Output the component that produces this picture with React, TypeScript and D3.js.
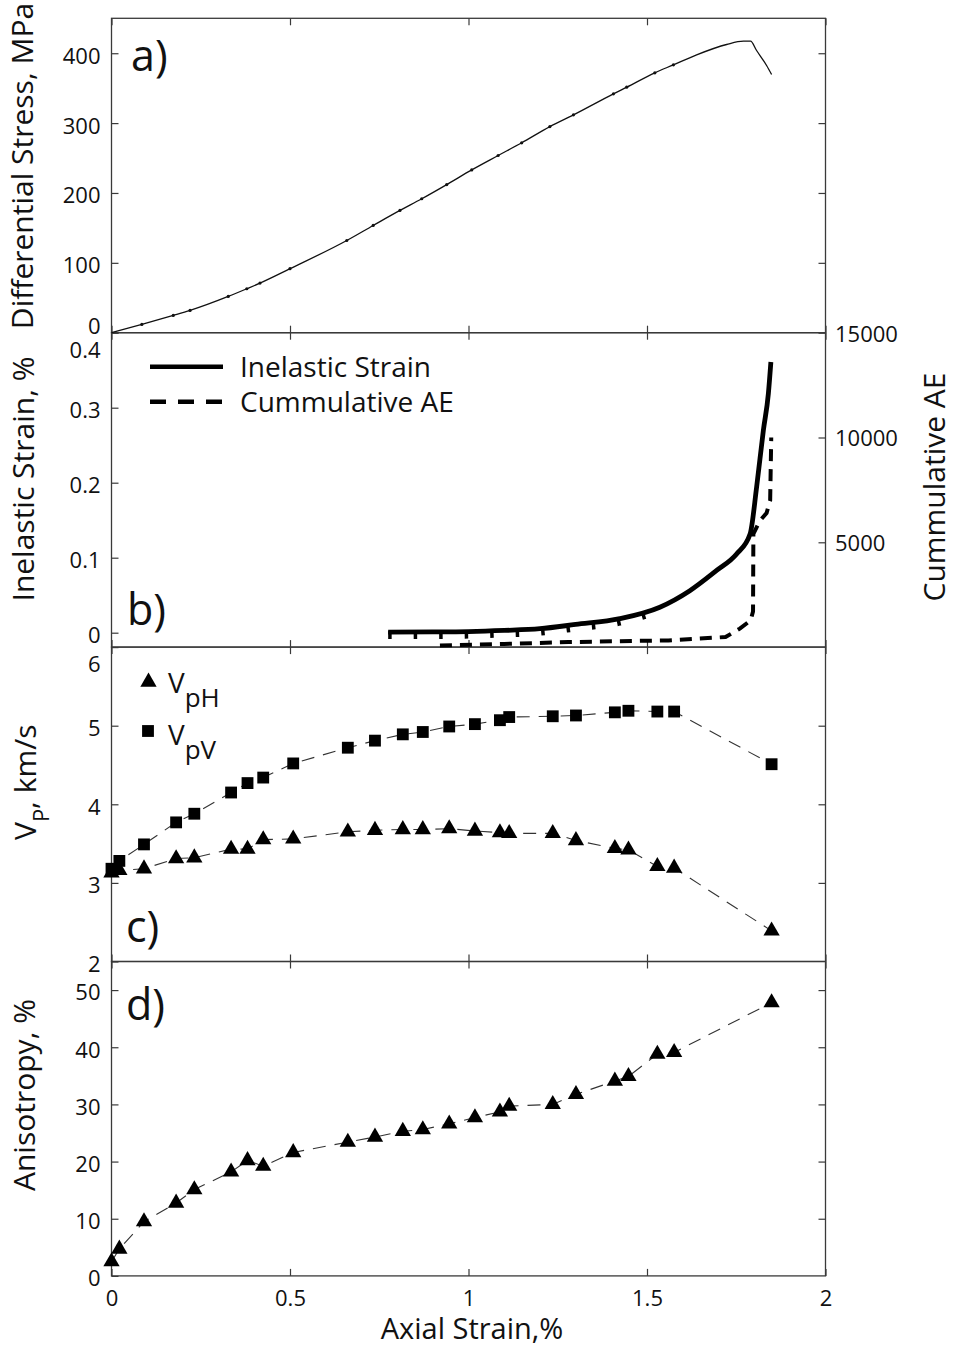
import React, { useEffect, useRef } from 'react'
import * as d3 from 'd3'

// a) stress-strain curve
const stressStrain = [0, 0.085, 0.173, 0.22, 0.327, 0.379, 0.416, 0.5, 0.659, 0.733, 0.808, 0.869, 0.939, 1.009, 1.083, 1.149, 1.228, 1.294, 1.406, 1.443, 1.522, 1.574, 1.639, 1.723, 1.77, 1.79, 1.807, 1.835, 1.849]
const stressMPa = [0, 11.9, 24.7, 31.9, 51.9, 62.9, 71, 91.6, 132, 153.5, 175, 191.7, 212, 233, 253.6, 271.8, 295, 311.8, 341.9, 351.4, 372, 383.4, 397.7, 412.5, 417.2, 417.2, 403.9, 382.4, 369.5]
const stressMarkCount = 22 // first points carry the little measurement dots

// b) inelastic strain and cumulative AE
const inelStrain = [0.775, 0.9, 1.0, 1.1, 1.2, 1.3, 1.424, 1.536, 1.62, 1.695, 1.751, 1.789, 1.807, 1.826, 1.84, 1.847]
const inelPct = [0.0008, 0.001, 0.0015, 0.003, 0.0053, 0.011, 0.0187, 0.034, 0.056, 0.083, 0.105, 0.132, 0.194, 0.27, 0.319, 0.361]
const aeStrain = [0.92, 1.1, 1.28, 1.56, 1.72, 1.76, 1.79, 1.797, 1.798, 1.815, 1.835, 1.845, 1.848]
const aeCount = [80, 150, 240, 320, 480, 880, 1270, 1700, 5400, 6000, 6400, 7000, 10000]

// c) and d) velocities and anisotropy
const velStrain = [0, 0.022, 0.091, 0.181, 0.232, 0.335, 0.381, 0.425, 0.509, 0.662, 0.738, 0.816, 0.872, 0.946, 1.018, 1.088, 1.114, 1.236, 1.301, 1.41, 1.448, 1.529, 1.576, 1.849]
const vpH = [3.13, 3.16, 3.18, 3.31, 3.32, 3.43, 3.43, 3.55, 3.56, 3.65, 3.67, 3.68, 3.68, 3.69, 3.66, 3.64, 3.63, 3.63, 3.54, 3.44, 3.42, 3.21, 3.19, 2.39]
const vpV = [3.18, 3.28, 3.49, 3.77, 3.88, 4.15, 4.27, 4.34, 4.52, 4.72, 4.81, 4.89, 4.92, 4.99, 5.02, 5.07, 5.11, 5.12, 5.13, 5.17, 5.19, 5.18, 5.18, 4.51]
const anisotropy = [2.5, 4.7, 9.5, 12.75, 15.1, 18.2, 20.2, 19.2, 21.6, 23.4, 24.3, 25.3, 25.6, 26.6, 27.7, 28.7, 29.7, 30.0, 31.75, 34.1, 34.9, 38.8, 39.1, 47.8]

const xTicks = [0, 0.5, 1, 1.5, 2]
const stressTicks = [0, 100, 200, 300, 400]
const inelTicks = [0, 0.1, 0.2, 0.3, 0.4]
const aeTicks = [5000, 10000, 15000]
const vpTicks = [2, 3, 4, 5, 6]
const anisoTicks = [0, 10, 20, 30, 40, 50]

const FONT = '"Open Sans", "Noto Sans", sans-serif'
const INK = '#111'
const FRAME = '#3a3a3a'

const left = 111.5
const right = 825.5
const panelTop = [18.3, 332.7, 647.1, 961.5]
const panelH = 314.4
const TICK = 7

export default function App () {
  const ref = useRef<SVGSVGElement>(null)

  useEffect(() => {
    const svg = d3.select(ref.current)
    svg.selectAll('*').remove()

    const x = d3.scaleLinear().domain([0, 2]).range([left, right])
    const yRange = (i: number) => [panelTop[i] + panelH, panelTop[i]]

    const yA = d3.scaleLinear().domain([0, 450]).range(yRange(0))
    const yB = d3.scaleLinear().domain([-0.0192, 0.4]).range(yRange(1))
    const yAE = d3.scaleLinear().domain([0, 15000]).range(yRange(1))
    const yC = d3.scaleLinear().domain([2, 6]).range(yRange(2))
    const yD = d3.scaleLinear().domain([0, 55]).range(yRange(3))

    const styleAxis = (g: any) => {
      g.select('.domain').remove()
      g.attr('font-family', FONT).attr('font-size', 22).attr('color', FRAME)
      g.selectAll('line').attr('stroke-width', 1.2)
      g.selectAll('text').attr('fill', INK)
    }

    // frames and ticks
    const frame = (i: number, y: any, leftTicks: number[], rightTicks: number[] | null, xLabels: boolean) => {
      const top = panelTop[i]
      const bottom = top + panelH
      svg.append('rect')
        .attr('x', left).attr('y', top)
        .attr('width', right - left).attr('height', panelH)
        .attr('fill', 'none').attr('stroke', FRAME).attr('stroke-width', 1.3)

      svg.append('g').attr('transform', `translate(0,${top})`)
        .call(d3.axisTop(x).tickValues(xTicks).tickSize(-TICK).tickSizeOuter(0).tickFormat(() => ''))
        .call(styleAxis)

      svg.append('g').attr('transform', `translate(0,${bottom})`)
        .call(d3.axisBottom(x).tickValues(xTicks).tickSize(-TICK).tickSizeOuter(0).tickPadding(14)
          .tickFormat(xLabels ? (d: any) => String(d) : () => ''))
        .call(styleAxis)

      const gl = svg.append('g').attr('transform', `translate(${left},0)`)
        .call(d3.axisLeft(y).tickValues(leftTicks).tickSize(-TICK).tickSizeOuter(0).tickPadding(11)
          .tickFormat((d: any) => String(d)))
        .call(styleAxis)
      gl.selectAll('text').attr('dy', '0.45em')

      if (rightTicks) {
        svg.append('g').attr('transform', `translate(${right},0)`)
          .call(d3.axisRight(y).tickValues(rightTicks).tickSize(-TICK).tickSizeOuter(0).tickFormat(() => ''))
          .call(styleAxis)
      }
      return gl
    }

    const glA = frame(0, yA, stressTicks, stressTicks.slice(1), false)
    glA.selectAll('text').filter((d: any) => d === 0).attr('dy', '0.05em')
    const glB = frame(1, yB, inelTicks, null, false)
    glB.selectAll('text').filter((d: any) => d === 0.4).attr('dy', '1.15em')
    const glC = frame(2, yC, vpTicks, vpTicks.slice(1, 4), false)
    glC.selectAll('text').filter((d: any) => d === 6).attr('dy', '1.1em')
    frame(3, yD, anisoTicks, anisoTicks.slice(1), true)

    // right axis of panel b
    svg.append('g').attr('transform', `translate(${right},0)`)
      .call(d3.axisRight(yAE).tickValues(aeTicks).tickSize(-TICK).tickSizeOuter(0).tickPadding(9.5)
        .tickFormat((d: any) => String(d)))
      .call(styleAxis)
      .selectAll('text').attr('dy', '0.38em')

    // a) stress curve
    const stressPts = stressStrain.map((s, k) => [s, stressMPa[k]])
    svg.append('path')
      .datum(stressPts)
      .attr('d', d3.line().x((d: any) => x(d[0])).y((d: any) => yA(d[1])).curve(d3.curveMonotoneX))
      .attr('fill', 'none').attr('stroke', INK).attr('stroke-width', 1.3)
    svg.append('g').selectAll('circle')
      .data(stressPts.slice(1, stressMarkCount))
      .join('circle')
      .attr('cx', (d: any) => x(d[0])).attr('cy', (d: any) => yA(d[1]))
      .attr('r', 1.6).attr('fill', INK)

    // b) inelastic strain
    const inelPts = inelStrain.map((s, k) => [s, inelPct[k]])
    const inelLine = d3.line().x((d: any) => x(d[0])).y((d: any) => yB(d[1])).curve(d3.curveMonotoneX)
    svg.append('path')
      .datum(inelPts.slice(0, 8))
      .attr('d', inelLine)
      .attr('transform', 'translate(0,3)')
      .attr('fill', 'none').attr('stroke', '#000').attr('stroke-width', 8)
      .attr('stroke-dasharray', '3.5,22')
    svg.append('path')
      .datum(inelPts)
      .attr('d', inelLine)
      .attr('fill', 'none').attr('stroke', '#000').attr('stroke-width', 4.8)
      .attr('stroke-linejoin', 'round')

    // b) cumulative AE
    svg.append('path')
      .datum(aeStrain.map((s, k) => [s, aeCount[k]]))
      .attr('d', d3.line().x((d: any) => x(d[0])).y((d: any) => yAE(d[1])))
      .attr('fill', 'none').attr('stroke', '#000').attr('stroke-width', 4)
      .attr('stroke-dasharray', '12,8')

    // legend b
    const legB = svg.append('g').attr('font-family', FONT).attr('font-size', 28).attr('fill', INK)
    legB.append('line').attr('x1', 150).attr('x2', 223).attr('y1', 366.7).attr('y2', 366.7)
      .attr('stroke', '#000').attr('stroke-width', 4.5)
    legB.append('line').attr('x1', 150).attr('x2', 223).attr('y1', 401.7).attr('y2', 401.7)
      .attr('stroke', '#000').attr('stroke-width', 4.5).attr('stroke-dasharray', '16,12')
    legB.append('text').attr('x', 240).attr('y', 376.5).text('Inelastic Strain')
    legB.append('text').attr('x', 240).attr('y', 411.7).text('Cummulative AE')

    // c) and d) markers
    const tri = d3.symbol().type(d3.symbolTriangle).size(115)
    const sq = d3.symbol().type(d3.symbolSquare).size(140)
    const dashed = (yS: any, vals: number[]) => {
      svg.append('path')
        .datum(velStrain.map((s, k) => [s, vals[k]]))
        .attr('d', d3.line().x((d: any) => x(d[0])).y((d: any) => yS(d[1])))
        .attr('fill', 'none').attr('stroke', '#333').attr('stroke-width', 1.1)
        .attr('stroke-dasharray', '13,9')
    }
    const markers = (yS: any, vals: number[], sym: any) => {
      svg.append('g').selectAll('path')
        .data(velStrain.map((s, k) => [s, vals[k]]))
        .join('path')
        .attr('d', sym)
        .attr('transform', (d: any) => `translate(${x(d[0])},${yS(d[1])})`)
        .attr('fill', '#000')
    }
    dashed(yC, vpV)
    dashed(yC, vpH)
    markers(yC, vpV, sq)
    markers(yC, vpH, tri)
    dashed(yD, anisotropy)
    markers(yD, anisotropy, tri)

    // legend c
    const legC = svg.append('g').attr('font-family', FONT).attr('fill', INK)
    legC.append('path').attr('d', tri).attr('transform', 'translate(148.5,682)').attr('fill', '#000')
    legC.append('path').attr('d', sq).attr('transform', 'translate(148,731)').attr('fill', '#000')
    const vLabel = (y: number, sub: string) => {
      const t = legC.append('text').attr('x', 168).attr('y', y).attr('font-size', 28)
      t.append('tspan').text('V')
      t.append('tspan').attr('dy', 14).attr('font-size', 26).text(sub)
    }
    vLabel(693, 'pH')
    vLabel(745, 'pV')

    // panel letters
    const letters = svg.append('g').attr('font-family', FONT).attr('font-size', 43).attr('fill', INK)
    letters.append('text').attr('x', 131).attr('y', 70.7).text('a)')
    letters.append('text').attr('x', 127).attr('y', 625).text('b)')
    letters.append('text').attr('x', 126).attr('y', 942).text('c)')
    letters.append('text').attr('x', 126).attr('y', 1020).text('d)')

    // axis titles
    const titles = svg.append('g').attr('font-family', FONT).attr('font-size', 30).attr('fill', INK)
    const vTitle = (tx: number, ty: number, label: string) =>
      titles.append('text').attr('transform', `translate(${tx},${ty}) rotate(-90)`)
        .attr('text-anchor', 'middle').text(label)
    vTitle(33, 166, 'Differential Stress, MPa')
    vTitle(34, 479, 'Inelastic Strain, %')
    vTitle(35, 1095, 'Anisotropy,  %')
    vTitle(945, 487, 'Cummulative AE')
    const vp = titles.append('text').attr('transform', 'translate(36,840) rotate(-90)')
    vp.append('tspan').text('V')
    vp.append('tspan').attr('dy', 13).attr('font-size', 22).text('P')
    vp.append('tspan').attr('dy', -13).text(', km/s')
    titles.append('text').attr('x', 472).attr('y', 1339).attr('text-anchor', 'middle').attr('font-size', 29)
      .text('Axial Strain,%')
  }, [])

  return (
    <svg ref={ref} width={955} height={1348}
      style={{ position: 'absolute', left: 0, top: 0, background: '#fff' }} />
  )
}
